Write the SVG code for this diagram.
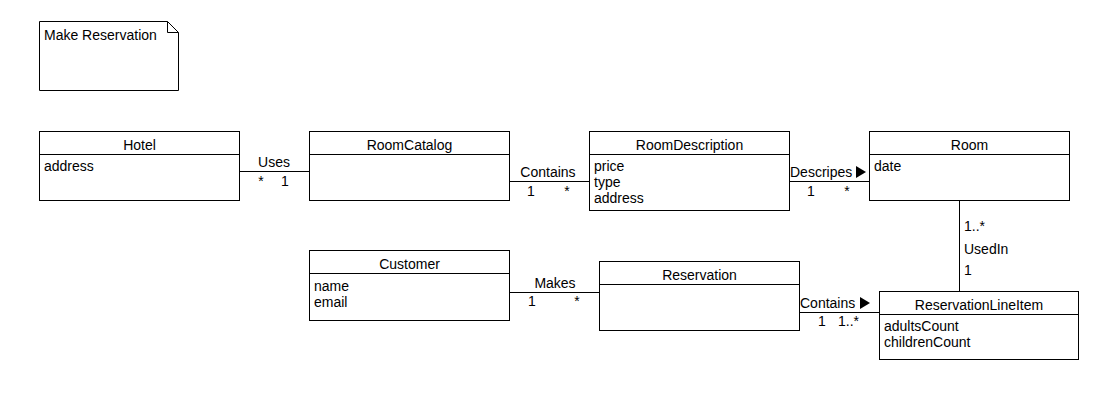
<svg xmlns="http://www.w3.org/2000/svg" width="1109" height="408" viewBox="0 0 1109 408">
<style>
  .box { fill: #ffffff; stroke: #000000; stroke-width: 1; }
  .line { stroke: #000000; stroke-width: 1; fill: none; }
  text { font-family: "Liberation Sans", Arial, sans-serif; font-size: 14px; fill: #000000; }
  .title { text-anchor: middle; }
  .mid { text-anchor: middle; }
  .tri { fill: #000000; stroke: none; }
</style>
<rect x="0" y="0" width="1109" height="408" fill="#ffffff"/>

<g id="note">
  <path class="box" d="M39.5,21.5 H167.5 L178.5,32.5 V90.5 H39.5 Z"/>
  <path class="line" d="M167.5,21.5 V32.5 H178.5"/>
  <text x="44" y="40">Make Reservation</text>
</g>

<g id="hotel">
  <rect class="box" x="39.5" y="131.5" width="200" height="69"/>
  <line class="line" x1="39.5" y1="154.5" x2="239.5" y2="154.5"/>
  <text class="title" x="139.5" y="150">Hotel</text>
  <text x="44" y="171">address</text>
</g>

<g id="roomcatalog">
  <rect class="box" x="309.5" y="131.5" width="200" height="69"/>
  <line class="line" x1="309.5" y1="154.5" x2="509.5" y2="154.5"/>
  <text class="title" x="409.5" y="150">RoomCatalog</text>
</g>

<g id="roomdescription">
  <rect class="box" x="589.5" y="131.5" width="200" height="79"/>
  <line class="line" x1="589.5" y1="154.5" x2="789.5" y2="154.5"/>
  <text class="title" x="689.5" y="150">RoomDescription</text>
  <text x="594" y="171">price</text>
  <text x="594" y="187">type</text>
  <text x="594" y="203">address</text>
</g>

<g id="room">
  <rect class="box" x="869.5" y="131.5" width="200" height="69"/>
  <line class="line" x1="869.5" y1="154.5" x2="1069.5" y2="154.5"/>
  <text class="title" x="969.5" y="150">Room</text>
  <text x="874" y="171">date</text>
</g>

<g id="customer">
  <rect class="box" x="309.5" y="250.5" width="200" height="70"/>
  <line class="line" x1="309.5" y1="273.5" x2="509.5" y2="273.5"/>
  <text class="title" x="409.5" y="269">Customer</text>
  <text x="314" y="291">name</text>
  <text x="314" y="307">email</text>
</g>

<g id="reservation">
  <rect class="box" x="599.5" y="261.5" width="200" height="69"/>
  <line class="line" x1="599.5" y1="284.5" x2="799.5" y2="284.5"/>
  <text class="title" x="699.5" y="280">Reservation</text>
</g>

<g id="reservationlineitem">
  <rect class="box" x="879.5" y="291.5" width="199" height="68"/>
  <line class="line" x1="879.5" y1="314.5" x2="1078.5" y2="314.5"/>
  <text class="title" x="979" y="310">ReservationLineItem</text>
  <text x="884" y="331">adultsCount</text>
  <text x="884" y="347">childrenCount</text>
</g>

<g id="connectors">
  <line class="line" x1="239.5" y1="171.5" x2="309.5" y2="171.5"/>
  <text class="mid" x="274" y="167">Uses</text>
  <text class="mid" x="261" y="186">*</text>
  <text class="mid" x="285" y="186">1</text>

  <line class="line" x1="509.5" y1="181.5" x2="589.5" y2="181.5"/>
  <text class="mid" x="548" y="177">Contains</text>
  <text class="mid" x="531" y="196">1</text>
  <text class="mid" x="567" y="196">*</text>

  <line class="line" x1="789.5" y1="181.5" x2="869.5" y2="181.5"/>
  <text x="790" y="177">Descripes</text>
  <path class="tri" d="M856,166 L866,172 L856,178 Z"/>
  <text class="mid" x="811" y="196">1</text>
  <text class="mid" x="847" y="196">*</text>

  <line class="line" x1="959.5" y1="200.5" x2="959.5" y2="291.5"/>
  <text x="964" y="231">1..*</text>
  <text x="964" y="254">UsedIn</text>
  <text x="964" y="275">1</text>

  <line class="line" x1="509.5" y1="292.5" x2="599.5" y2="292.5"/>
  <text class="mid" x="555" y="288">Makes</text>
  <text class="mid" x="532" y="306">1</text>
  <text class="mid" x="577" y="306">*</text>

  <line class="line" x1="799.5" y1="312.5" x2="879.5" y2="312.5"/>
  <text x="800" y="308">Contains</text>
  <path class="tri" d="M860,297 L870,303 L860,309 Z"/>
  <text class="mid" x="822" y="326">1</text>
  <text x="838" y="326">1..*</text>
</g>
</svg>
